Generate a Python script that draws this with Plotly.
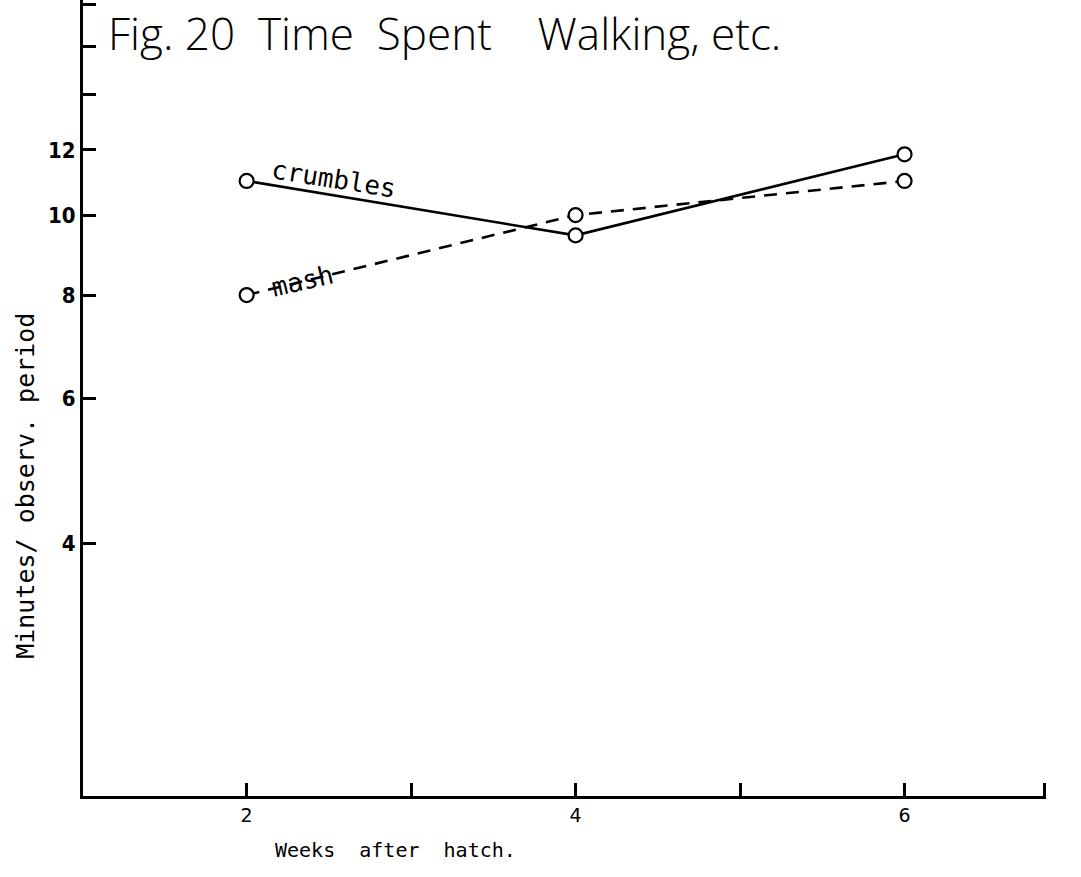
import numpy as np
import plotly.graph_objects as go

# data
weeks = [2, 4, 6]
crumbles = [11.0, 9.45, 11.85]
mash = [8.0, 10.0, 11.0]

y_tickvals = [4, 6, 8, 10, 12, 14, 16, 18]
y_ticktext = ["4", "6", "8", "10", "12", "", "", ""]
x_tickvals = [2, 3, 4, 5, 6, 6.85]
x_ticktext = ["2", "", "4", "", "6", ""]

fig = go.Figure()

fig.add_trace(go.Scatter(
    x=weeks, y=crumbles, mode="lines+markers", name="crumbles",
    line=dict(color="black", width=2.6),
    marker=dict(symbol="circle", size=14, color="white", line=dict(width=2.2, color="black")),
))
fig.add_trace(go.Scatter(
    x=weeks, y=mash, mode="lines+markers", name="mash",
    line=dict(color="black", width=2.6, dash="13px,9px"),
    marker=dict(symbol="circle", size=14, color="white", line=dict(width=2.2, color="black")),
))

# labels written along the lines
fig.add_annotation(x=2.53, y=np.log10(11.05), text="crumbles", showarrow=False,
                   textangle=9, font=dict(family="DejaVu Sans Mono", size=26, color="black"))
fig.add_annotation(x=2.34, y=np.log10(8.33), text="mash", showarrow=False,
                   textangle=-13, font=dict(family="DejaVu Sans Mono", size=26, color="black"))

# title and axis titles
fig.add_annotation(xref="paper", yref="paper", x=0.024, y=0.958, xanchor="left", yanchor="middle",
                   text="Fig. 20  Time  Spent    Walking, etc.", showarrow=False,
                   font=dict(family="Open Sans", size=44, color="black", weight=300))
fig.add_annotation(xref="paper", yref="paper", x=-0.06, y=0.39, xanchor="center", yanchor="middle",
                   textangle=-90, text="Minutes/ observ. period", showarrow=False,
                   font=dict(family="DejaVu Sans Mono", size=25, color="black"))
fig.add_annotation(xref="paper", yref="paper", x=0.325, y=-0.068, xanchor="center", yanchor="middle",
                   text="Weeks  after  hatch.", showarrow=False,
                   font=dict(family="DejaVu Sans Mono", size=20, color="black"))

fig.update_xaxes(
    range=[1.005, 6.86], showline=True, linewidth=3, linecolor="black",
    showgrid=False, zeroline=False,
    tickmode="array", tickvals=x_tickvals, ticktext=x_ticktext,
    ticks="inside", ticklen=13, tickwidth=2.5, tickcolor="black",
    tickfont=dict(family="DejaVu Sans", size=19, color="black"),
)
fig.update_yaxes(
    type="log", range=[np.log10(1.976), np.log10(18.23)],
    showline=True, linewidth=3, linecolor="black",
    showgrid=False, zeroline=False,
    tickmode="array", tickvals=y_tickvals, ticktext=y_ticktext,
    ticks="inside", ticklen=13, tickwidth=2.5, tickcolor="black",
    tickfont=dict(family="DejaVu Sans Condensed", size=22, color="black", weight="bold"),
)

fig.update_layout(
    width=1081, height=877,
    margin=dict(l=83, r=35, t=0, b=81),
    paper_bgcolor="white", plot_bgcolor="white",
    showlegend=False,
)

fig.write_html("out.html", config={"displayModeBar": False},
               post_script="document.body.style.margin='0';")
